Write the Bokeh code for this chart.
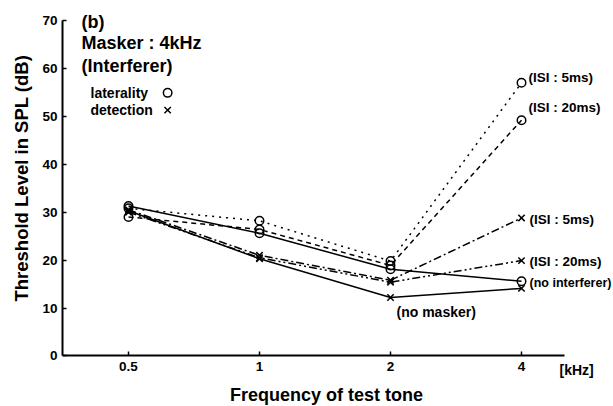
import math
from bokeh.plotting import figure
from bokeh.models import FixedTicker, Label, Range1d
from bokeh.embed import file_html
from bokeh.resources import INLINE

# ---- data ----
freqs = [0.5, 1, 2, 4]
freq_labels = ["0.5", "1", "2", "4"]
y_ticks = [0, 10, 20, 30, 40, 50, 60, 70]
lat_isi5 = [30.8, 28.2, 19.8, 57.0]
lat_isi20 = [29.0, 26.4, 18.9, 49.2]
lat_none = [31.3, 25.6, 18.1, 15.6]
det_isi5 = [30.5, 21.0, 15.8, 28.8]
det_isi20 = [30.0, 20.5, 15.4, 19.9]
det_none = [30.3, 20.3, 12.2, 14.1]

FONT = "Liberation Sans"
X_AXIS_START, X_AXIS_END = 0.3528, 5.02

p = figure(width=613, height=406, x_axis_type="log",
           x_range=Range1d(0.2540, 6.508), y_range=Range1d(-10.54, 74.17),
           output_backend="svg", toolbar_location=None,
           min_border_left=0, min_border_right=0,
           min_border_top=0, min_border_bottom=0)
p.outline_line_color = None
p.xgrid.visible = False
p.ygrid.visible = False
p.background_fill_color = "white"
p.border_fill_color = "white"

for ax in (p.xaxis[0], p.yaxis[0]):
    ax.axis_line_width = 2
    ax.axis_line_color = "black"
    ax.major_tick_in = 4
    ax.major_tick_out = 0
    ax.minor_tick_in = 0
    ax.minor_tick_out = 0
    ax.major_tick_line_width = 1.5
    ax.major_tick_line_color = "black"
    ax.major_label_text_font = FONT
    ax.major_label_text_font_style = "bold"
    ax.major_label_text_font_size = "13.5px"
    ax.major_label_text_color = "black"

p.xaxis.ticker = FixedTicker(ticks=freqs)
p.xaxis.major_label_overrides = {f: s for f, s in zip(freqs, freq_labels)}
p.xaxis.major_label_standoff = 6
p.xaxis.bounds = (X_AXIS_START, X_AXIS_END)
p.xaxis.fixed_location = 0

p.yaxis.ticker = FixedTicker(ticks=y_ticks)
p.yaxis.major_label_standoff = 5
p.yaxis.bounds = (0, 70)
p.yaxis.fixed_location = X_AXIS_START

LW = 1.5
p.line(freqs, lat_isi5, line_color="black", line_width=LW, line_dash="2 5")
p.line(freqs, lat_isi20, line_color="black", line_width=LW, line_dash="5 4")
p.line(freqs, lat_none, line_color="black", line_width=LW)
p.line(freqs, det_isi5, line_color="black", line_width=LW, line_dash="8 3 2 3")
p.line(freqs, det_isi20, line_color="black", line_width=LW, line_dash="8 3 2 3 2 3")
p.line(freqs, det_none, line_color="black", line_width=LW)

for ys in (lat_isi5, lat_isi20, lat_none):
    p.scatter(freqs, ys, marker="circle", size=8.5, fill_color=None,
              line_color="black", line_width=1.5)
for ys in (det_isi5, det_isi20, det_none):
    p.scatter(freqs, ys, marker="x", size=9, line_color="black", line_width=1.5)

# legend keys
p.scatter([0.615], [54.9], marker="circle", size=8.5, fill_color=None,
          line_color="black", line_width=1.5)
p.scatter([0.615], [51.3], marker="x", size=9, line_color="black", line_width=1.5)


def lab(text, x, y, xoff=0, size="13.5px", align="left", angle=0.0):
    p.add_layout(Label(x=x, y=y, x_offset=xoff, text=text, text_font=FONT,
                       text_font_style="bold", text_font_size=size,
                       text_baseline="middle", text_align=align,
                       text_color="black", angle=angle))


lab("(b)", 0.5, 69.7, -47, "18px")
lab("Masker : 4kHz", 0.5, 65.2, -47, "18px")
lab("(Interferer)", 0.5, 60.4, -47, "18px")
lab("laterality", 0.5, 54.9, -38, "14px")
lab("detection", 0.5, 51.3, -38, "14px")

lab("(ISI : 5ms)", 4, 58.1, 7)
lab("(ISI : 20ms)", 4, 51.8, 7)
lab("(ISI : 5ms)", 4, 28.5, 8)
lab("(ISI : 20ms)", 4, 19.7, 8)
lab("(no interferer)", 4, 15.3, 8, "12.5px")
lab("(no masker)", 2, 9.1, 6, "14px")
lab("[kHz]", 4, -3.0, 38, "14px")
lab("Frequency of test tone", 1.4256, -8.2, 0, "18px", "center")
lab("Threshold Level in SPL (dB)", 0.2540, 37.1, 21, "18.5px", "center",
    math.pi / 2)

open("out.html", "w").write(file_html(p, INLINE))
